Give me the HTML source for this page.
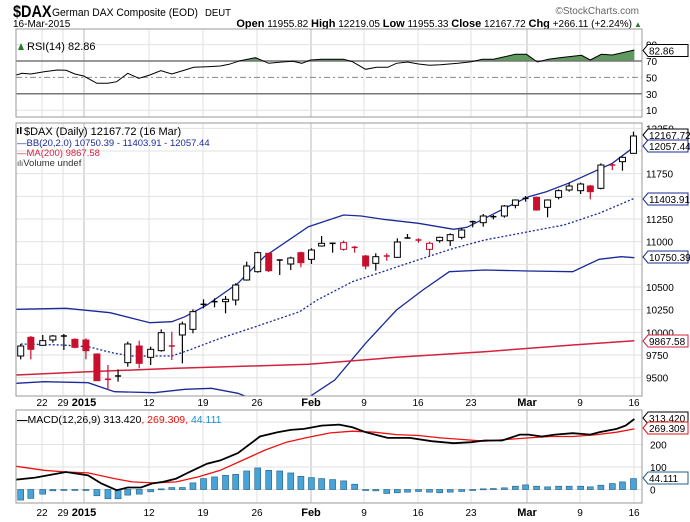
<!DOCTYPE html>
<html><head><meta charset="utf-8"><style>
body{margin:0;background:#fff;}
svg{display:block;font-family:"Liberation Sans",sans-serif;}
</style></head><body>
<svg id="s" width="690" height="522" xmlns="http://www.w3.org/2000/svg">
<rect width="690" height="522" fill="#fff"/>
<text x="13" y="17" font-size="17" font-weight="bold" transform="scale(0.85,1)" style="transform-origin:13px 17px">$DAX</text>
<text x="52" y="16" font-size="11" textLength="146" lengthAdjust="spacingAndGlyphs">German DAX Composite (EOD)</text>
<text x="205" y="16" font-size="10.5" textLength="26" lengthAdjust="spacingAndGlyphs">DEUT</text>
<text x="639" y="14" font-size="10" fill="#666" text-anchor="end">©StockCharts.com</text>
<text x="13" y="27" font-size="10">16-Mar-2015</text>
<text x="632" y="27" font-size="10" text-anchor="end"><tspan font-weight="bold" font-size="11">Open</tspan> 11955.82 <tspan font-weight="bold" font-size="11">High</tspan> 12219.05 <tspan font-weight="bold" font-size="11">Low</tspan> 11955.33 <tspan font-weight="bold" font-size="11">Close</tspan> 12167.72 <tspan font-weight="bold" font-size="11">Chg</tspan> +266.11 (+2.24%)</text>
<text x="634" y="27" font-size="8" fill="#2a7a2a">▲</text>
<g id="g"></g>
</svg>
<script>
const g=document.getElementById('g');let h='';
const L=16,R=642;
function ln(x1,y1,x2,y2,c,w,extra){h+=`<line x1="${x1}" y1="${y1}" x2="${x2}" y2="${y2}" stroke="${c}" stroke-width="${w}" ${extra||''}/>`;}
function tx(x,y,t,s,c,a){h+=`<text x="${x}" y="${y}" font-size="${s}" fill="${c||'#000'}" ${a||''}>${t}</text>`;}
function pl(pts,c,w,extra){h+=`<polyline fill="none" stroke="${c}" stroke-width="${w}" ${extra||''} points="${pts.map(p=>p[0].toFixed(1)+','+p[1].toFixed(1)).join(' ')}"/>`;}
function box(x,y,t,c){h+=`<path d="M${x} ${y} l5 -6 h40 v12 h-40 z" fill="#fff" stroke="${c}" stroke-width="1"/>`;tx(x+6,y+4,t,10,'#000');}
const dates=[[42,'22'],[63,'29'],[84,'2015',1],[149,'12'],[203,'19'],[257,'26'],[311,'Feb',1],[364,'9'],[418,'16'],[471,'23'],[527,'Mar',1],[580,'9'],[634,'16']];
const panels=[[29,117],[123,396],[410,503]];
panels.forEach(p=>{
 dates.forEach(d=>ln(d[0],p[0],d[0],p[1],d[2]?'#bbb':'#e2e2e2',1));
});
const ry=v=>61+(70-v)*0.82;
[90,10].forEach(v=>ln(L,ry(v),R,ry(v),'#e2e2e2',1));
const py=p=>377.7-(p-9500)*0.09068;
for(let p=9500;p<=12250;p+=250)ln(L,py(p),R,py(p),'#e2e2e2',1);
const my=v=>489.5-v*0.225;
[0,100,200,300].forEach(v=>ln(L,my(v),R,my(v),'#e2e2e2',1));
const rsiD=[[37,225],[50,220],[70,222],[100,215],[130,210],[150,211],[170,222],[190,228],[220,250],[245,250],[265,245],[290,220],[315,235],[340,225],[365,212],[390,222],[420,210],[440,202],[470,200],[500,198],[520,193],[545,182],[580,173],[610,190],[640,186],[665,184],[685,190],[705,180],[730,178],[780,178],[800,185],[830,208],[855,202],[880,202],[900,190],[925,186],[950,192],[975,196],[1000,194],[1040,190],[1070,185],[1095,178],[1120,178],[1170,163],[1195,163],[1220,186],[1245,178],[1270,173],[1320,166],[1340,180],[1365,163],[1390,165],[1440,150]];
const rsi=rsiD.map(p=>[p[0]/2.27,p[1]/3]);
h+=`<clipPath id="ca"><rect x="0" y="0" width="700" height="${ry(70)}"/></clipPath>`;
h+=`<polygon clip-path="url(#ca)" fill="#5f9a5f" points="${rsi[0][0]},${ry(70)} ${rsi.map(p=>p[0].toFixed(1)+','+p[1].toFixed(1)).join(' ')} ${rsi[rsi.length-1][0]},${ry(70)}"/>`;
ln(L,ry(70),R,ry(70),'#777',1.5);ln(L,ry(30),R,ry(30),'#777',1.5);
ln(L,ry(50),R,ry(50),'#888',1,'stroke-dasharray="6,3,2,3"');
pl(rsi,'#000',1);
tx(27,50,'RSI(14) 82.86',11);
h+=`<path d="M18 50 l3 -7 l3 7z" fill="#2a7a2a"/>`;
[90,70,50,30,10].forEach(v=>tx(646,ry(v)+4,v,10,'#000'));
box(643,ry(82.86),'82.86','#000');
const cv=a=>a.map(p=>[p[0]/2.27,120+p[1]/3]);
h+=`<clipPath id="cp"><rect x="${L}" y="123" width="${R-L}" height="273"/></clipPath><g clip-path="url(#cp)">`;
pl(cv([[37,568],[150,565],[250,578],[340,608],[390,605],[420,590],[470,555],[540,490],[600,410],[700,320],[780,285],[820,288],[870,298],[950,310],[1030,328],[1060,322],[1150,262],[1200,230],[1240,215],[1290,190],[1340,160],[1390,130],[1440,80]]),'#1a2a9a',1.3);
pl(cv([[47,672],[140,675],[200,680],[260,700],[300,708],[390,708],[430,690],[500,655],[580,620],[680,575],[720,540],[800,485],[880,450],[960,415],[1030,385],[1100,360],[1200,335],[1280,315],[1360,280],[1440,235]]),'#1a2a9a',1.3,'stroke-dasharray="2,2"');
pl(cv([[37,790],[100,785],[200,788],[260,815],[350,818],[420,808],[480,805],[540,820],[580,840]]),'#1a2a9a',1.3);
pl(cv([[690,850],[705,828],[760,780],[830,670],[900,570],[960,510],[1020,455],[1100,450],[1200,453],[1300,455],[1360,418],[1410,410],[1440,413]]),'#1a2a9a',1.3);
pl(cv([[37,765],[200,755],[400,745],[700,733],[900,712],[1100,695],[1300,675],[1440,662]]),'#d4213d',1.5);
const C=[[47,'w',678,708,672,718],[70,'r',652,688,648,718],[97,'w',662,676,645,676],[120,'w',648,660,645,668],[145,'c',648,648,642,690],[170,'r',658,682,655,685],[195,'r',660,692,655,718],[220,'r',702,782,700,782],[245,'x',778,778,735,810],[268,'c',768,768,748,785],[290,'w',672,728,665,740],[316,'r',678,730,662,745],[342,'w',688,712,680,735],[366,'w',638,692,628,695],[390,'x',678,678,635,720],[414,'w',612,645,605,730],[438,'w',575,628,568,640],[462,'c',553,553,538,565],[487,'c',545,545,535,562],[512,'w',538,545,528,580],[535,'w',495,540,490,556],[560,'w',438,480,425,482],[585,'w',398,455,395,458],[610,'r',400,452,398,456],[635,'c',420,420,418,465],[660,'w',414,432,410,450],[683,'r',398,428,395,442],[707,'w',390,418,385,432],[730,'w',370,378,348,380],[755,'c',370,370,368,398],[780,'o',368,388,362,392],[805,'x',382,382,378,398],[830,'r',408,438,405,448],[853,'w',410,430,400,452],[878,'x',408,408,400,422],[902,'w',366,412,355,413],[925,'c',354,354,342,356],[950,'x',360,360,355,368],[975,'o',370,388,365,408],[998,'w',352,362,350,368],[1022,'w',344,362,340,378],[1048,'w',330,352,325,358],[1073,'c',305,305,302,322],[1097,'w',288,308,282,320],[1120,'c',290,290,285,298],[1145,'w',258,288,255,293],[1170,'w',240,256,238,265],[1193,'c',235,235,228,245],[1218,'r',232,270,230,272],[1243,'w',240,262,238,292],[1268,'w',212,232,208,238],[1292,'w',198,210,188,215],[1318,'w',192,212,188,222],[1340,'r',198,215,195,238],[1364,'w',135,205,130,208],[1390,'x',135,135,130,150],[1413,'w',112,125,110,152],[1438,'w',48,100,35,100]];
h+='</g>';
C.forEach(c=>{const x=c[0]/2.27,y1=120+c[2]/3,y2=120+c[3]/3,w1=120+c[4]/3,w2=120+c[5]/3;
 const red=(c[1]=='r'||c[1]=='x'||c[1]=='o');const col=red?'#c8102e':'#000';
 ln(x,w1,x,w2,col,1.2);
 if(c[1]=='c'||c[1]=='x'){ln(x-3,y1,x+3,y1,col,1.5);}
 else{h+=`<rect x="${x-3}" y="${y1}" width="6" height="${Math.max(1.5,y2-y1)}" fill="${c[1]=='r'?'#c8102e':'#fff'}" stroke="${col}" stroke-width="1"/>`;}
});
tx(24,135,'$DAX (Daily) 12167.72 (16 Mar)',11,'#000');
h+=`<rect x="17" y="128" width="1.5" height="6" fill="#000"/><rect x="20" y="127" width="1.5" height="7" fill="#000"/>`;
tx(17,146,'—BB(20,2.0) 10750.39 - 11403.91 - 12057.44',9.5,'#1a2a9a');
tx(17,156,'—MA(200) 9867.58',9.5,'#d4213d');
tx(17,166,'<tspan font-size="8">ılı</tspan>Volume undef',9.5,'#333');
[12250,11750,11500,11250,11000,10500,10250,10000,9750,9500].forEach(v=>tx(646,py(v)+4,v,10,'#000'));
box(643,135,'12167.72','#000');box(643,146,'12057.44','#1a2a9a');box(643,199,'11403.91','#1a2a9a');box(643,257,'10750.39','#1a2a9a');box(643,341,'9867.58','#d4213d');
[406,516].forEach(yy=>dates.forEach(d=>tx(d[0],yy,d[1],d[2]?11:10,'#000',`text-anchor="middle" ${d[2]?'font-weight="bold"':''}`)));
const mc=a=>a.map(p=>[p[0]/2.27,489.5-(268-p[1])*0.331]);
const hist=[300,295,282,272,270,270,271,287,296,296,285,282,275,266,262,262,248,235,230,225,222,212,203,210,212,218,228,232,235,238,242,252,268,272,280,278,276,274,276,278,276,274,270,266,265,263,258,254,258,260,258,258,258,260,255,250,245,235];
hist.forEach((d,i)=>{const x=C[i][0]/2.27,y=489.5-(268-d)*0.331,y0=489.5;
 const t=Math.min(y,y0),hh=Math.max(1,Math.abs(y-y0));
 h+=`<rect x="${x-3}" y="${t}" width="6" height="${hh}" fill="#4aa3d6" stroke="#1d5f8a" stroke-width="0.6"/>`;});
pl(mc([[37,198],[100,210],[150,215],[200,218],[260,235],[300,245],[350,248],[400,245],[450,230],[500,210],[550,180],[600,150],[650,125],[700,110],[750,97],[800,92],[850,95],[900,102],[950,105],[1000,112],[1050,117],[1100,122],[1150,117],[1200,112],[1250,108],[1300,108],[1350,103],[1400,95],[1440,85]]),'#f01010',1.3);
pl(mc([[37,238],[80,232],[150,215],[200,225],[230,250],[265,270],[290,262],[320,262],[345,250],[370,245],[400,235],[430,215],[470,190],[500,180],[540,158],[590,108],[630,95],[660,88],[690,85],[730,75],[770,72],[800,80],[830,95],[880,112],[930,112],[980,122],[1030,128],[1070,125],[1100,120],[1140,120],[1180,102],[1200,102],[1230,108],[1260,102],[1300,98],[1320,100],[1340,102],[1360,95],[1400,85],[1420,75],[1440,55]]),'#000',1.8);
tx(17,423,'<tspan font-weight="bold">—</tspan>MACD(12,26,9) 313.420<tspan fill="#f01010">, 269.309, </tspan><tspan fill="#1e90d0">44.111</tspan>',10.5,'#000');
[200,100,0].forEach(v=>tx(650,my(v)+4,v,10,'#000'));
box(643,418,'313.420','#000');box(643,428,'269.309','#f01010');box(643,478,'44.111','#1d5f8a');
panels.forEach(p=>h+=`<rect x="${L}" y="${p[0]}" width="${R-L}" height="${p[1]-p[0]}" fill="none" stroke="#999" stroke-width="1"/>`);
g.innerHTML=h;
</script>
</body></html>
